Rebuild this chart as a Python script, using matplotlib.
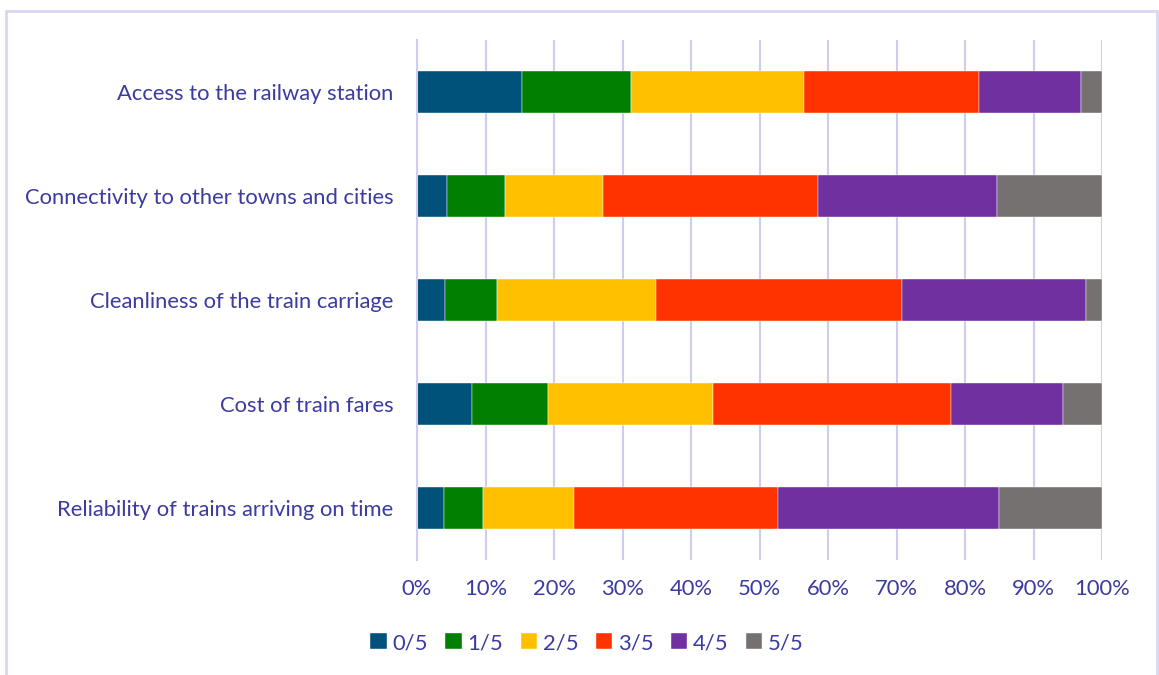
import matplotlib.pyplot as plt
from matplotlib.patches import Rectangle
from matplotlib.ticker import PercentFormatter

plt.rcParams['font.family'] = ['Lato', 'DejaVu Sans']

categories = [
    'Access to the railway station',
    'Connectivity to other towns and cities',
    'Cleanliness of the train carriage',
    'Cost of train fares',
    'Reliability of trains arriving on time',
]
ratings = ['0/5', '1/5', '2/5', '3/5', '4/5', '5/5']
# share of answers per rating, in percent, one list per category
shares = [
    [15.4, 15.8, 25.3, 25.6, 14.9, 3.0],
    [4.4, 8.5, 14.3, 31.4, 26.0, 15.4],
    [4.1, 7.6, 23.2, 35.9, 26.9, 2.3],
    [8.1, 11.0, 24.1, 34.8, 16.3, 5.7],
    [3.9, 5.8, 13.2, 29.8, 32.2, 15.1],
]
colors = ['#00527a', '#007f00', '#ffc000', '#ff3300', '#7030a0', '#767171']

text_color = '#3b3ba0'
grid_color = '#d0ccf0'

fig = plt.figure(figsize=(11.59, 6.75), dpi=100)
ax = fig.add_axes([417 / 1159, 1 - 560 / 675, 685 / 1159, 520 / 675])

# outer chart frame
fig.patches.append(Rectangle((6 / 1159, -0.1), 1151 / 1159, 1.1 - 11 / 675,
                             transform=fig.transFigure, fill=False,
                             edgecolor='#d9d6f4', linewidth=2))

ypos = range(len(categories))
left = [0.0] * len(categories)
for i, (label, color) in enumerate(zip(ratings, colors)):
    vals = [row[i] for row in shares]
    ax.barh(ypos, vals, left=left, height=0.4, color=color, label=label,
            edgecolor='white', linewidth=0.3)
    left = [l + v for l, v in zip(left, vals)]

ax.set_xlim(0, 100)
ax.set_ylim(len(categories) - 0.5, -0.5)
ax.set_yticks(list(ypos))
ax.set_yticklabels(categories)
ax.set_xticks(range(0, 101, 10))
ax.xaxis.set_major_formatter(PercentFormatter(decimals=0))

ax.grid(axis='x', color=grid_color, linewidth=1.5)
ax.set_axisbelow(True)
for side in ['top', 'right', 'bottom']:
    ax.spines[side].set_visible(False)
ax.spines['left'].set_color(grid_color)
ax.spines['left'].set_linewidth(1.5)

ax.tick_params(axis='both', length=0, labelsize=15.8, labelcolor=text_color)
ax.tick_params(axis='x', pad=14)
ax.tick_params(axis='y', pad=17)

leg = fig.legend(loc='center', bbox_to_anchor=(587 / 1159, 1 - 643 / 675),
                 ncol=6, frameon=False, fontsize=15.8, handlelength=0.75,
                 handleheight=0.75, handletextpad=0.25, columnspacing=0.8)
for t in leg.get_texts():
    t.set_color(text_color)

fig.savefig('out.png', dpi=100)
